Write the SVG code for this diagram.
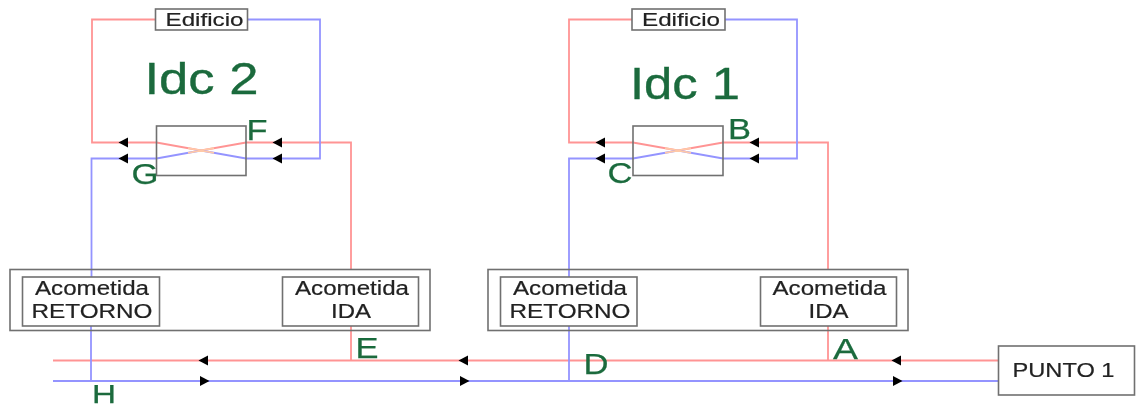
<svg xmlns="http://www.w3.org/2000/svg" width="1138" height="405" viewBox="0 0 1138 405">
<style>
text{font-family:"Liberation Sans",Arial,sans-serif;text-anchor:middle}
svg>g{filter:url(#soft)}
.box{fill:#fff;stroke:#707070;stroke-width:1.6}
.frame{fill:none;stroke:#707070;stroke-width:1.6}
.t{font-size:20px;fill:#222;stroke:#222;stroke-width:.2}
.e{font-size:19px}
.g{fill:#1a6b3c;stroke:#1a6b3c;stroke-width:.25;font-size:30px}
.big{fill:#1a6b3c;stroke:#1a6b3c;stroke-width:.35;font-size:45px}
.r{fill:none;stroke:#ff9494;stroke-width:1.8}
.b{fill:none;stroke:#9494ff;stroke-width:1.8}
.o{fill:none;stroke:#ffc8a8;stroke-width:1.8}
</style>
<defs>
<filter id="soft" x="-5%" y="-5%" width="110%" height="110%"><feGaussianBlur stdDeviation="0.4"/></filter>
<path id="al" d="M-5.500 0L4-5V5Z" fill="#000"/>
<path id="ar" d="M5.500 0L-4-5V5Z" fill="#000"/>
</defs>
<g id="connectors">
<path class="r" d="M155 19.500H92V142.500H156.500L201 150.500L246 142.500H351V269"/>
<path class="b" d="M248 19.500H320V158.500H246L201 150.500L156.500 158.500H91.500V277"/>
<path class="r" d="M632 19.500H569V142.500H633L678 150.500L723 142.500H828V269"/>
<path class="b" d="M725 19.500H797V158.500H723L678 150.500L633 158.500H569V277"/>
<path class="o" d="M188 148.200L214 152.800M188 152.800L214 148.200M665 148.200L691 152.800M665 152.800L691 148.200"/>
<path class="r" d="M351 326V360.500M828 326V360.500M53 360.500H998"/>
<path class="b" d="M91 326V381M569 326V381M53 381H998"/>
<use href="#al" x="124" y="142.500"/><use href="#al" x="124" y="158.500"/>
<use href="#al" x="278" y="142.500"/><use href="#al" x="278" y="158.500"/>
<use href="#al" x="601" y="142.500"/><use href="#al" x="601" y="158.500"/>
<use href="#al" x="755" y="142.500"/><use href="#al" x="755" y="158.500"/>
<use href="#al" x="204" y="360.500"/><use href="#al" x="464" y="360.500"/><use href="#al" x="897" y="360.500"/>
<use href="#ar" x="204" y="381"/><use href="#ar" x="464" y="381"/><use href="#ar" x="897" y="381"/>
</g>
<g id="edificio-2"><rect class="box" x="155.500" y="9" width="92" height="21"/><text class="t e" x="204.500" y="26" textLength="78" lengthAdjust="spacingAndGlyphs">Edificio</text></g>
<g id="edificio-1"><rect class="box" x="632" y="9" width="93" height="21"/><text class="t e" x="681" y="26" textLength="78" lengthAdjust="spacingAndGlyphs">Edificio</text></g>
<g id="idc-2"><text class="big" x="201.500" y="94" textLength="114" lengthAdjust="spacingAndGlyphs">Idc 2</text></g>
<g id="idc-1"><text class="big" x="685" y="99" textLength="110" lengthAdjust="spacingAndGlyphs">Idc 1</text></g>
<g id="exchanger-2"><rect class="frame" x="156.500" y="126" width="89.500" height="49.500"/></g>
<g id="exchanger-1"><rect class="frame" x="633" y="126" width="90" height="49.500"/></g>
<g id="acometida-group-2"><rect class="frame" x="10" y="269.500" width="420" height="61"/></g>
<g id="acometida-group-1"><rect class="frame" x="488" y="269.500" width="420" height="61"/></g>
<g id="retorno-2"><rect class="box" x="22.500" y="277" width="137" height="49"/><text class="t" x="92" y="294.500" textLength="114" lengthAdjust="spacingAndGlyphs">Acometida</text><text class="t" x="92" y="317.500" textLength="121" lengthAdjust="spacingAndGlyphs">RETORNO</text></g>
<g id="ida-2"><rect class="box" x="282.500" y="277" width="136" height="49"/><text class="t" x="352" y="294.500" textLength="114" lengthAdjust="spacingAndGlyphs">Acometida</text><text class="t" x="351" y="317.500" textLength="40" lengthAdjust="spacingAndGlyphs">IDA</text></g>
<g id="retorno-1"><rect class="box" x="500.500" y="277" width="136.500" height="49"/><text class="t" x="570" y="294.500" textLength="114" lengthAdjust="spacingAndGlyphs">Acometida</text><text class="t" x="570" y="317.500" textLength="121" lengthAdjust="spacingAndGlyphs">RETORNO</text></g>
<g id="ida-1"><rect class="box" x="760.500" y="277" width="136" height="49"/><text class="t" x="829.500" y="294.500" textLength="114" lengthAdjust="spacingAndGlyphs">Acometida</text><text class="t" x="828.500" y="317.500" textLength="40" lengthAdjust="spacingAndGlyphs">IDA</text></g>
<g id="punto-1"><rect class="box" x="998.500" y="346" width="136" height="49"/><text class="t" x="1063.500" y="377" textLength="102" lengthAdjust="spacingAndGlyphs">PUNTO 1</text></g>
<g id="labels">
<text class="g" x="257" y="140" textLength="21" lengthAdjust="spacingAndGlyphs">F</text>
<text class="g" x="145" y="184" textLength="27" lengthAdjust="spacingAndGlyphs">G</text>
<text class="g" x="739.500" y="139" textLength="23" lengthAdjust="spacingAndGlyphs">B</text>
<text class="g" x="620" y="183" textLength="25" lengthAdjust="spacingAndGlyphs">C</text>
<text class="g" x="367" y="358" textLength="23" lengthAdjust="spacingAndGlyphs">E</text>
<text class="g" x="845.500" y="359" textLength="25" lengthAdjust="spacingAndGlyphs">A</text>
<text class="g" x="596" y="374" textLength="25" lengthAdjust="spacingAndGlyphs">D</text>
<text class="g" x="104" y="403" textLength="24" lengthAdjust="spacingAndGlyphs" style="font-size:26px">H</text>
</g>
</svg>
